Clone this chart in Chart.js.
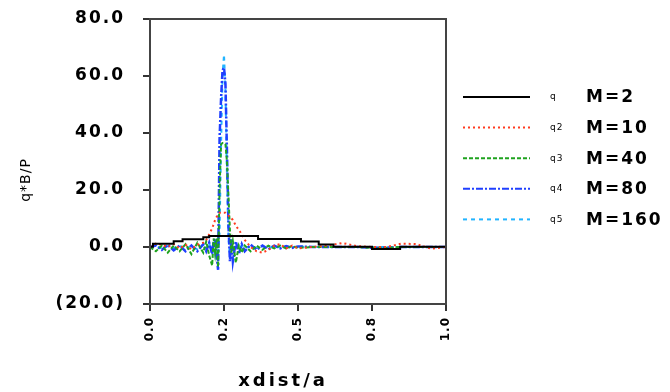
<!DOCTYPE html>
<html>
<head>
<meta charset="utf-8">
<script src="https://cdn.jsdelivr.net/npm/chart.js@4"></script>
<style>
  body { margin: 0; background: #fff; }
  canvas { display: block; }
</style>
</head>
<body>
<canvas id="qChart" width="670" height="392"></canvas>
<script>
// series names / legend
var seriesNames = ['M=2', 'M=10', 'M=40', 'M=80', 'M=160'];
var seriesTags = ['q', 'q2', 'q3', 'q4', 'q5'];

// M=2 is a step curve
var xM2 = [0, 0.01, 0.08, 0.11, 0.18, 0.2, 0.365, 0.51, 0.57, 0.62, 0.75, 0.845, 1.0];
var yM2 = [0.1, 1.1, 2.0, 2.7, 3.4, 3.9, 2.8, 1.9, 0.9, 0.1, -0.7, 0.1, 0.1];

// the finer runs share these x positions
var xFine = [0, 0.02, 0.04, 0.06, 0.08, 0.10, 0.12, 0.14, 0.16, 0.18,
             0.19, 0.20, 0.21, 0.215, 0.22, 0.225, 0.23, 0.235, 0.24, 0.245,
             0.25, 0.255, 0.26, 0.265, 0.27, 0.275, 0.28, 0.29, 0.30, 0.31,
             0.32, 0.34, 0.36, 0.38, 0.40, 0.42, 0.44, 0.46, 0.48, 0.50,
             0.55, 0.60, 0.65, 0.70, 0.75, 0.80, 0.85, 0.90, 0.95, 1.0];
var yM10 = [0, 1.2, 0.8, 0, 1.0, -0.5, 0.8, -0.8, 0.8, 1.5,
            2.5, 4.5, 6.5, 8, 9.5, 10.5, 11.5, 12, 12, 12,
            12, 12, 11.5, 11, 10.5, 10, 9.5, 7.5, 6, 4.5,
            2.5, 0, -1.5, -2, -1, 0.5, 1, -0.5, 0.5, -0.5,
            0, 0.5, 1.4, 0.3, 0, 0, 1.2, 1.0, -0.6, 0];
var yM40 = [0, -1.5, 0.5, -2, 0.5, -1.5, 1, -2.5, 1.5, -2,
            2, -3, -6.5, 3, -2, 3, -7, 20, 36, 36.5,
            36.5, 36, 30, 18, 6, -2, 2, -5.5, 0.5, -2,
            0.5, -1.5, 0.5, -1, 0.5, -0.5, 0.5, -0.5, 0.3, -0.3,
            0, 0, 0, 0, -0.3, -0.3, 0, 0, 0, 0];
var yM80 = [0, 0.5, -1, 0.8, -1.2, 0.5, -1.5, 0.5, -1.5, 1,
            -1.5, 1.5, -2.5, 2, 3, -3, -8, 38, 52, 62,
            63, 57, 34, 8, -5, 3, -5, 2, -2.5, 1,
            -1.5, 0.8, -1, 0.5, -0.8, 0.5, -0.5, 0.3, -0.3, 0.2,
            0, 0, 0, 0, -0.3, -0.3, 0, 0, 0, 0];
var yM160 = [0, 0.3, -0.5, 0.3, -0.4, 0.5, -0.6, 0.4, -0.8, 0.8,
             -1, 1.2, -2, 2.5, -2, 2, -3, 5, 35, 60,
             67.5, 55, 25, 3, -3, 2, -1.5, 1, -0.8, 0.6,
             -0.5, 0.4, -0.3, 0.3, -0.3, 0.2, -0.2, 0.2, -0.1, 0.1,
             0, 0, 0, 0, 0, 0, 0, 0, 0, 0];

// axis ticks
var xTickValues = [0, 0.25, 0.5, 0.75, 1.0];
var xTickLabels = ['0.0', '0.2', '0.5', '0.8', '1.0'];
var xTitle = 'xdist/a';
var yTitle = 'q*B/P';

function pts(xs, ys) {
    return xs.map(function(x, i) { return {x: x, y: ys[i]}; });
}

// letter spacing per axis (pixel-ish wide font in the original)
var spacingPlugin = {
    id: 'spacing',
    beforeDraw: function(chart) {
        [['x', '1px'], ['y', '2px']].forEach(function(p) {
            var s = chart.scales[p[0]];
            if (!s || s._spaced) return;
            var orig = s.drawLabels;
            s.drawLabels = function(area) {
                chart.ctx.save();
                chart.ctx.letterSpacing = p[1];
                orig.call(this, area);
                chart.ctx.restore();
            };
            s._spaced = true;
        });
    }
};

var decorPlugin = {
    id: 'decor',
    afterDraw: function(chart) {
        var ctx = chart.ctx, a = chart.chartArea;
        ctx.save();
        // frame
        ctx.strokeStyle = '#444';
        ctx.lineWidth = 2;
        ctx.strokeRect(a.left, a.top, a.right - a.left, a.bottom - a.top);

        // axis titles
        ctx.fillStyle = '#000';
        ctx.textAlign = 'center';
        ctx.textBaseline = 'middle';
        ctx.letterSpacing = '3px';
        ctx.font = 'bold 18px "DejaVu Sans"';
        ctx.fillText(xTitle, 283, 381);

        ctx.save();
        ctx.translate(26, 180);
        ctx.rotate(-Math.PI / 2);
        ctx.letterSpacing = '1px';
        ctx.font = '14px "DejaVu Sans"';
        ctx.fillText(yTitle, 0, 0);
        ctx.restore();

        // legend
        ctx.textAlign = 'left';
        chart.data.datasets.forEach(function(ds, i) {
            var y = 97 + i * 30.6;
            ctx.save();
            ctx.strokeStyle = ds.borderColor;
            ctx.lineWidth = 2;
            ctx.setLineDash(ds.borderDash || []);
            ctx.beginPath();
            ctx.moveTo(463, y);
            ctx.lineTo(530, y);
            ctx.stroke();
            ctx.restore();

            ctx.letterSpacing = '1px';
            ctx.font = '9px "DejaVu Sans"';
            ctx.fillText(seriesTags[i], 550, y);
            ctx.letterSpacing = '2px';
            ctx.font = 'bold 17px "DejaVu Sans"';
            ctx.fillText(seriesNames[i], 586, y + 1);
        });
        ctx.restore();
    }
};

document.addEventListener('DOMContentLoaded', function() {
    var ctx = document.getElementById('qChart').getContext('2d');
    var qChart = new Chart(ctx, {
        type: 'line',
        data: {
            datasets: [{
                label: seriesNames[0],
                data: pts(xM2, yM2),
                borderColor: '#000000',
                borderWidth: 2,
                stepped: true
            }, {
                label: seriesNames[1],
                data: pts(xFine, yM10),
                borderColor: '#ff3b1f',
                borderWidth: 2,
                borderDash: [2, 3]
            }, {
                label: seriesNames[2],
                data: pts(xFine, yM40),
                borderColor: '#1fa31f',
                borderWidth: 2,
                borderDash: [4, 2]
            }, {
                label: seriesNames[3],
                data: pts(xFine, yM80),
                borderColor: '#1f3fff',
                borderWidth: 2.5,
                borderDash: [7, 2, 2, 2]
            }, {
                label: seriesNames[4],
                data: pts(xFine, yM160),
                borderColor: '#22b4ff',
                borderWidth: 2,
                borderDash: [4, 4]
            }]
        },
        options: {
            responsive: false,
            animation: false,
            layout: { padding: { left: 0, right: 224, top: 19, bottom: 0 } },
            elements: { point: { radius: 0 }, line: { tension: 0 } },
            plugins: { legend: { display: false }, tooltip: { enabled: false } },
            scales: {
                x: {
                    type: 'linear',
                    min: 0,
                    max: 1,
                    afterBuildTicks: function(scale) {
                        scale.ticks = xTickValues.map(function(v) { return {value: v}; });
                    },
                    afterFit: function(scale) {
                        scale.height = 88;
                        scale.paddingLeft = 0;
                        scale.paddingRight = 0;
                    },
                    grid: { drawOnChartArea: false, drawTicks: true, tickLength: 7, color: '#333', lineWidth: 2 },
                    border: { display: true, color: '#333', width: 2 },
                    ticks: {
                        autoSkip: false,
                        minRotation: 90,
                        maxRotation: 90,
                        padding: 6,
                        color: '#000',
                        font: { family: 'DejaVu Sans', size: 12, weight: 'bold' },
                        callback: function(v, i) { return xTickLabels[i]; }
                    }
                },
                y: {
                    min: -20,
                    max: 80,
                    afterFit: function(scale) {
                        scale.width = 150;
                        scale.paddingTop = 0;
                        scale.paddingBottom = 0;
                    },
                    grid: { drawOnChartArea: false, drawTicks: true, tickLength: 7, color: '#333', lineWidth: 2 },
                    border: { display: true, color: '#333', width: 2 },
                    ticks: {
                        stepSize: 20,
                        padding: 18,
                        color: '#000',
                        font: { family: 'DejaVu Sans', size: 17, weight: 'bold' },
                        callback: function(v) {
                            return v < 0 ? '(' + Math.abs(v).toFixed(1) + ')' : v.toFixed(1);
                        }
                    }
                }
            }
        },
        plugins: [spacingPlugin, decorPlugin]
    });
});
</script>
</body>
</html>
